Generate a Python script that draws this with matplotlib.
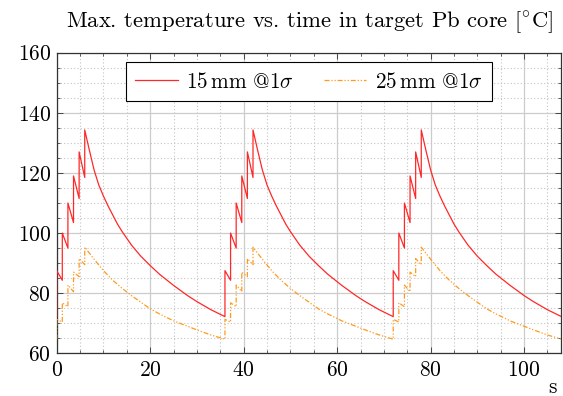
import matplotlib
matplotlib.use('Agg')
import matplotlib.pyplot as plt
from matplotlib.ticker import MultipleLocator
import numpy as np

plt.rcParams['font.family'] = ['cmr10', 'DejaVu Serif']
plt.rcParams['mathtext.fontset'] = 'cm'
plt.rcParams['axes.formatter.use_mathtext'] = True

# one beam cycle (36 s), time relative to cycle start
period = 36.0
cycle_starts = [0.0, 36.0, 72.0]

t_15 = [0.0, 0.0, 1.2, 1.2, 2.4, 2.4, 3.6, 3.6, 4.8, 4.8, 6.0, 6.0,
        7, 8, 9, 10, 11, 12, 13, 14, 16, 18, 20, 22, 25, 28, 30, 33, 36]
temp_15 = [72.2, 87.5, 84.3, 100.0, 95.0, 110.0, 103.5, 119.0, 111.5, 127.0, 118.5, 134.3,
           127.5, 121.0, 116.0, 112.3, 109.0, 106.0, 103.0, 100.5, 96.0, 92.3, 89.2,
           86.3, 82.6, 79.2, 77.2, 74.5, 72.2]

t_25 = [0.0, 0.0, 1.2, 1.2, 2.4, 2.4, 3.6, 3.6, 4.8, 4.8, 6.0, 6.0,
        7, 8, 10, 12, 14, 16, 18, 20, 22, 25, 28, 30, 33, 36]
temp_25 = [64.7, 71.3, 70.4, 76.8, 75.5, 82.7, 80.5, 87.0, 85.5, 91.5, 89.5, 95.3,
           93.3, 91.3, 87.5, 84.3, 81.6, 79.2, 77.0, 74.8, 73.1, 70.8, 69.0,
           67.8, 66.1, 64.7]

labels = [r'15$\,$mm @1$\sigma$', r'25$\,$mm @1$\sigma$']
title = r'Max. temperature vs. time in target Pb core [$^{\circ}$C]'


def repeat_cycles(t, v):
    tt = np.concatenate([np.array(t) + s for s in cycle_starts])
    vv = np.concatenate([np.array(v) for s in cycle_starts])
    return tt, vv


fig = plt.figure(figsize=(5.63, 3.96), dpi=100)
ax = fig.add_axes([0.1007, 0.1078, 0.8966, 0.7591])

x1, y1 = repeat_cycles(t_15, temp_15)
x2, y2 = repeat_cycles(t_25, temp_25)
ax.plot(x1, y1, color='#ff2828', lw=0.9, label=labels[0], zorder=3)
ax.plot(x2, y2, color='#ff9a1f', lw=0.9, dashes=(4, 1.5, 1, 1.5, 1, 1.5),
        label=labels[1], zorder=3)

ax.set_xlim(0, 108)
ax.set_ylim(60, 160)
ax.xaxis.set_major_locator(MultipleLocator(20))
ax.xaxis.set_minor_locator(MultipleLocator(5))
ax.yaxis.set_major_locator(MultipleLocator(20))
ax.yaxis.set_minor_locator(MultipleLocator(5))

ax.grid(which='major', color='#cccccc', lw=0.9, ls='-')
ax.grid(which='minor', color='#c4c4c4', lw=0.8, ls=(0, (1, 2)))
ax.set_axisbelow(True)

ax.tick_params(which='both', direction='in', top=True, right=True,
               colors='#444444', labelcolor='black', labelsize=15.5)
ax.tick_params(which='major', length=4, width=0.7, pad=5)
ax.tick_params(which='minor', length=2.5, width=0.6)
ax.tick_params(axis='y', pad=4)
for sp in ax.spines.values():
    sp.set_color('#333333')
    sp.set_linewidth(0.9)

ax.set_title(title, fontsize=16.3, pad=18)
ax.set_xlabel('s', fontsize=15.5)
ax.xaxis.set_label_coords(0.983, -0.082)

leg = ax.legend(loc='upper center', bbox_to_anchor=(0.5, 0.969), ncol=2,
                fontsize=15.3, frameon=True, fancybox=False, framealpha=1,
                edgecolor='black', handlelength=2.0, columnspacing=1.4,
                borderpad=0.45, handletextpad=0.4, borderaxespad=0)
leg.get_frame().set_linewidth(0.8)

fig.savefig('out.png', dpi=100)
